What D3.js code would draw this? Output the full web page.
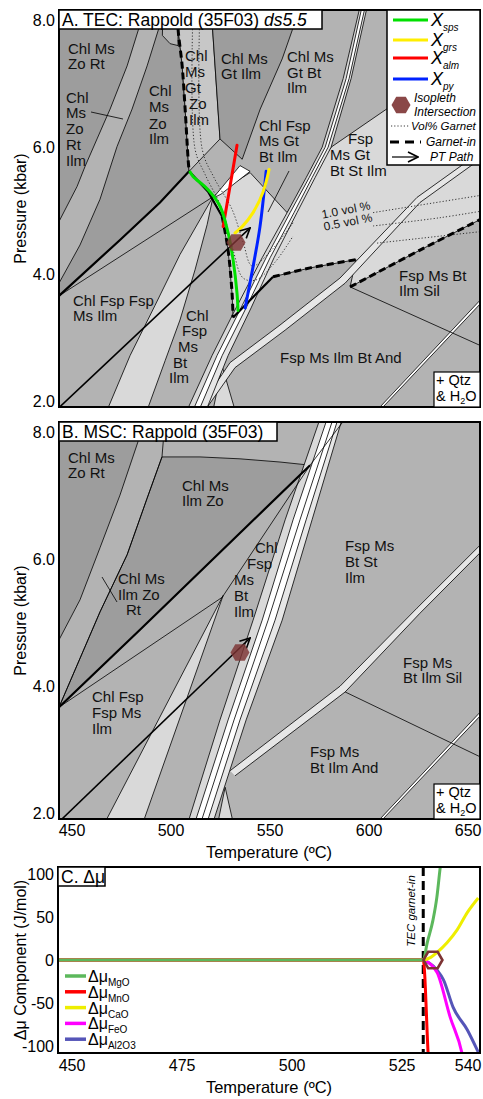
<!DOCTYPE html>
<html>
<head>
<meta charset="utf-8">
<script src="https://cdn.jsdelivr.net/npm/d3@7"></script>
<style>
  body { margin: 0; background: #fff; }
  svg { display: block; }
</style>
</head>
<body>
<div id="chart"></div>
<script>
// ─── Data (temperature °C, pressure kbar) ─────────────────────────────────────

const pTicks = [2, 4, 6, 8]
const tTicks = [450, 500, 550, 600, 650]
const dmuTicks = [-100, -50, 0, 50, 100]
const dmuTempTicks = [450, 475, 500, 525, 540]

// Panel A — TEC pseudosection fields
const aChlMsZoRt = [[443.4, 8.2], [484.8, 8.2], [483.8, 7.87], [477.8, 7.27], [469.2, 6.59], [462.6, 6.12], [456.6, 5.69], [452.5, 5.37], [443.4, 4.82]]
const aL2 = [[494.9, 8.2], [493.9, 7.87], [487.9, 7.27], [480.3, 6.59], [472.7, 6.0], [464.1, 5.17], [454, 4.45], [443.4, 3.85]]
const aGarnetUpper = [[503.5, 8.2], [503.5, 7.87], [505.6, 7.27], [507.1, 6.59], [508.6, 5.8], [509.1, 5.61]]
const aThick = [[509.1, 5.61], [494.4, 5.12], [474.2, 4.53], [443.4, 3.65]]
const aTopPatch = [[496, 8.2], [503.5, 8.2], [503.5, 7.59], [499.5, 7.62], [495.6, 7.75]]
const aChlMsGtIlm = [[520.2, 8.2], [565.1, 8.2], [561.6, 7.87], [556.1, 7.38], [545, 6.59], [535.9, 5.8], [524.7, 6.12]]
const aGarnetField = [[580.8, 5.99], [656, 7.6], [656, 4.85], [625.7, 4.37], [590.4, 3.79], [593.4, 4.22], [570.2, 4.09], [551.5, 3.95], [531.3, 3.31], [530.8, 3.69], [528.8, 4.37], [525.8, 4.9], [520.5, 5.2], [539.9, 5.59], [558.6, 4.96]]
const aSliver = [[521.2, 5.19], [534.8, 5.7], [539.9, 5.61], [525.2, 5.25]]
const aWedge = [[521.2, 5.21], [514.6, 4.85], [504.5, 4.3], [491.9, 3.5], [479.3, 2.71], [467.7, 1.85], [487.9, 1.85], [497, 2.63], [504.5, 3.27], [512.1, 4.06], [518.2, 4.77]]
const aBottomTri = [[525.8, 2.54], [532.3, 1.85], [521.2, 1.85]]
const aLineB = [[443.4, 3.65], [521.2, 5.21]]
const aLineSil = [[590.4, 3.79], [656, 2.87]]
const aGarnetSolid1 = [[509.1, 5.61], [518.7, 5.29], [525.8, 4.9]]
const aGarnetLow2 = [[525.8, 4.9], [528.8, 4.37], [530.8, 3.69], [531.3, 3.31]]
const aGarnetSolid2 = [[531.3, 3.31], [551.5, 3.95]]
const aGarnetLow4 = [[551.5, 3.95], [570.2, 4.09], [593.4, 4.22]]
const aGarnetLow5 = [[590.4, 3.79], [625.7, 4.37], [656, 4.85]]
const aBundle1 = [[508.1, 1.85], [520.7, 2.71], [532.8, 3.46], [546, 4.25], [558.6, 4.96], [568.2, 5.51], [576.3, 5.99], [586.9, 7.07], [595.4, 8.2]]
const aBundle2 = [[511.1, 1.85], [523.2, 2.71], [535.3, 3.46], [548, 4.25], [560.1, 4.96], [569.7, 5.51], [577.8, 5.99], [588.4, 7.07], [596.4, 8.2]]
const aBundle3 = [[514.1, 1.85], [525.8, 2.71], [537.9, 3.46], [550, 4.25], [562.1, 4.96], [571.2, 5.51], [579.3, 5.99], [589.9, 7.07], [598, 8.2]]
const aBundle4 = [[517.7, 1.85], [528.8, 2.71], [540.4, 3.46], [552, 4.25], [563.6, 4.96], [572.7, 5.51], [580.8, 5.99], [590.9, 7.07], [599, 8.2]]
const aS2a = [[656, 5.91], [624.2, 5.2], [585.3, 3.93], [555, 3.19], [529.8, 2.6], [514.6, 1.9]]
const aS2b = [[656, 5.8], [625.7, 5.12], [587.9, 3.85], [557.6, 3.11], [532.3, 2.52], [517.2, 1.85]]
const aDouble1 = [[604, 1.85], [656, 3.58]]
const aDouble2 = [[605.5, 1.85], [656, 3.52]]
// garnet modal contours (vol%)
const aVol05 = [[511.1, 8.2], [512.1, 5.96], [517.2, 5.56], [525.8, 5.01], [531.3, 4.37], [536.4, 3.93], [542.9, 3.9], [552.5, 4.18], [561.6, 4.59]]
const aVol05r = [[602, 4.75], [635.8, 4.88], [656, 4.98]]
const aVol10 = [[514.6, 8.2], [515.7, 5.96], [521.7, 5.51], [530.8, 5.01], [536.4, 4.49], [540.9, 4.12], [549, 4.31], [561.6, 4.8]]
const aVol10r = [[602, 4.96], [656, 5.23]]
const aVolLow = [[604, 4.48], [656, 4.66]]

// garnet isopleths (panel A)
const isoSps = [[509.6, 5.6], [511.1, 5.53], [518.7, 5.32], [524.7, 5.06], [528.8, 4.64], [531.3, 4.22], [533.3, 3.69], [533.8, 3.42]]
const isoGrs = [[549.5, 5.64], [546.5, 5.29], [541.4, 4.96], [535.9, 4.74], [532.3, 4.64]]
const isoAlm = [[533.3, 6.02], [526.3, 4.74]]
const isoPy = [[548, 5.61], [544.9, 4.74], [541.4, 4.11], [537.4, 3.46]]
const ptPathA = [[443.4, 1.89], [539.9, 4.72]]
const isoPointA = [532.8, 4.49]

// Panel B — MSC pseudosection fields
const bChlMsZoRt = [[443.4, 8.2], [485.4, 8.2], [483.3, 7.84], [474.2, 7.0], [464.1, 6.17], [454, 5.35], [443.4, 4.72]]
const bL2 = [[497, 8.2], [495.4, 7.6], [487.9, 6.95], [477.8, 6.06], [464.1, 5.16], [443.4, 3.66]]
const bArc = [[495.4, 7.6], [514.6, 7.6], [534.8, 7.57], [555, 7.52], [570.2, 7.47]]
const bThick = [[570.2, 7.47], [484.3, 4.88], [443.4, 3.66]]
const bThickUp = [[587.9, 8.2], [570.2, 7.47]]
const bThin = [[570.2, 7.47], [525.8, 5.39], [443.4, 3.66]]
const bWedge = [[526.3, 5.42], [466.7, 1.85], [485.9, 1.85]]
const bBottomTri = [[527.3, 2.4], [531.3, 1.85], [523.7, 1.85]]
const bBundle1 = [[508.6, 1.85], [524.7, 3.46], [541.4, 5.03], [557.6, 6.61], [575.2, 8.2]]
const bBundle2 = [[512.1, 1.85], [528.8, 3.46], [546, 5.03], [561.6, 6.61], [578.8, 8.2]]
const bBundle3 = [[515.1, 1.85], [531.8, 3.46], [549, 5.03], [565.1, 6.61], [581.8, 8.2]]
const bBundle4 = [[518.2, 1.85], [534.8, 3.46], [552.5, 5.03], [568.2, 6.61], [584.3, 8.2]]
const bBundle5 = [[521.2, 1.85], [537.9, 3.46], [556.1, 5.03], [571.2, 6.61], [586.4, 8.2]]
const bS2a = [[656, 6.21], [624.2, 5.22], [585.3, 3.99], [529.8, 2.66]]
const bS2b = [[656, 6.09], [625.7, 5.14], [587.9, 3.9], [532.3, 2.58]]
const bLineSil = [[587.9, 3.9], [656, 2.88]]
const bDouble1 = [[604, 1.85], [656, 3.58]]
const bDouble2 = [[605.5, 1.85], [656, 3.52]]
const ptPathB = [[444.9, 1.9], [539.9, 4.75]]
const isoPointB = [534.8, 4.52]

// Panel C — Δμ components (J/mol) vs temperature
const tecGarnetInT = 529.8
const dmuMgO = [[446.8, 0], [529.8, 0], [530.7, 20], [532, 46], [532.9, 73], [533.6, 105], [533.9, 118]]
const dmuMnO = [[446.8, 0], [529.8, 0], [530.9, -108], [531, -118]]
const dmuCaO = [[446.8, 0], [529.8, 0], [531.5, 3], [533, 9], [535.2, 20], [537.5, 35], [539.8, 55], [542.3, 72]]
const dmuFeO = [[446.8, 0], [529.8, 0], [531, -3], [533, -15], [535.9, -66], [538.6, -108], [539, -118]]
const dmuAl2O3 = [[446.8, 0], [529.8, 0], [531, -3], [533, -12], [534.4, -23], [536.6, -55], [539.8, -81], [542.3, -107]]
const dmuPoint = [532, 0]

// ─── Layout ───────────────────────────────────────────────────────────────────

const W = 483, H = 1099
const FONT = 'Arial, "Liberation Sans", sans-serif'
const DARK = '#9d9d9d', MID = '#b3b3b3', LMID = '#c7c7c7', LIGHT = '#d9d9d9', PALE = '#e6e6e6'
const HEX = '#7d3333'

const boxA = { left: 59, right: 480, top: 10, bottom: 407 }
const boxB = { left: 59, right: 480, top: 422, bottom: 819 }
const boxC = { left: 58, right: 480, top: 867, bottom: 1053 }

const x = d3.scaleLinear().domain([443.4, 656]).range([boxA.left, boxA.right])
const yA = d3.scaleLinear().domain([1.9, 8.15]).range([boxA.bottom, boxA.top])
const yB = d3.scaleLinear().domain([1.9, 8.15]).range([boxB.bottom, boxB.top])
const xC = d3.scaleLinear().domain([446.8, 542.7]).range([boxC.left, boxC.right])
const yC = d3.scaleLinear().domain([-108, 108]).range([boxC.bottom, boxC.top])

const svg = d3.select('#chart').append('svg')
  .attr('width', W).attr('height', H)
  .style('font-family', FONT)

const defs = svg.append('defs')
defs.append('marker')
  .attr('id', 'arrowhead')
  .attr('viewBox', '0 0 12 12')
  .attr('refX', 11).attr('refY', 6)
  .attr('markerWidth', 12).attr('markerHeight', 12)
  .attr('markerUnits', 'userSpaceOnUse')
  .attr('orient', 'auto')
  .append('path')
  .attr('d', 'M1,1 L11,6 L1,11')
  .attr('fill', 'none').attr('stroke', '#000').attr('stroke-width', 1.6)

const hexPath = r => 'M' + d3.range(6).map(i => {
  const a = i * Math.PI / 3
  return [r * Math.cos(a), r * Math.sin(a)]
}).join('L') + 'Z'

function clipFor(id, box) {
  defs.append('clipPath').attr('id', id)
    .append('rect')
    .attr('x', box.left).attr('y', box.top)
    .attr('width', box.right - box.left).attr('height', box.bottom - box.top)
  return `url(#${id})`
}

function fieldLabels(g, labels) {
  g.selectAll(null).data(labels).join('text')
    .attr('x', d => d.x).attr('y', d => d.y + 5.5)
    .attr('font-size', 15).attr('fill', '#111')
    .text(d => d.t)
}

// ─── Pseudosection panel ──────────────────────────────────────────────────────

function pseudosection(id, box, y, spec) {
  const g = svg.append('g')
  const body = g.append('g').attr('clip-path', clipFor('clip-' + id, box))
  const lin = d3.line().x(d => x(d[0])).y(d => y(d[1]))
  const smooth = d3.line().x(d => x(d[0])).y(d => y(d[1])).curve(d3.curveCatmullRom)

  body.append('rect')
    .attr('x', box.left).attr('y', box.top)
    .attr('width', box.right - box.left).attr('height', box.bottom - box.top)
    .attr('fill', MID)

  // assemblage fields
  body.selectAll(null).data(spec.fields).join('path')
    .attr('d', d => lin(d.pts) + 'Z')
    .attr('fill', d => d.fill)
    .attr('stroke', '#000').attr('stroke-width', 0.8)
    .attr('stroke-linejoin', 'round')

  // narrow fields drawn as strips between neighbouring boundaries
  spec.strips.forEach(s => {
    for (let i = 0; i < s.lines.length - 1; i++) {
      const poly = s.lines[i].concat(s.lines[i + 1].slice().reverse())
      body.append('path').attr('d', lin(poly) + 'Z').attr('fill', s.fills[i])
    }
    s.lines.forEach(l => body.append('path')
      .attr('d', lin(l)).attr('fill', 'none')
      .attr('stroke', '#000').attr('stroke-width', 0.8))
  })

  spec.thin.forEach(l => body.append('path')
    .attr('d', lin(l)).attr('fill', 'none')
    .attr('stroke', '#000').attr('stroke-width', 0.8))

  spec.thick.forEach(l => body.append('path')
    .attr('d', lin(l)).attr('fill', 'none')
    .attr('stroke', '#000').attr('stroke-width', 2.2))

  ;(spec.dotted || []).forEach(l => body.append('path')
    .attr('d', smooth(l)).attr('fill', 'none')
    .attr('stroke', '#222').attr('stroke-width', 0.9)
    .attr('stroke-dasharray', '1.2,2'))

  ;(spec.dashed || []).forEach(l => body.append('path')
    .attr('d', smooth(l)).attr('fill', 'none')
    .attr('stroke', '#000').attr('stroke-width', 3)
    .attr('stroke-dasharray', '7,4'))

  ;(spec.isopleths || []).forEach(s => body.append('path')
    .attr('d', smooth(s.pts)).attr('fill', 'none')
    .attr('stroke', s.color).attr('stroke-width', 3)
    .attr('stroke-linecap', 'round'))

  // PT path arrow
  body.append('path')
    .attr('d', lin(spec.ptPath))
    .attr('stroke', '#000').attr('stroke-width', 1.6)
    .attr('marker-end', 'url(#arrowhead)')

  // isopleth intersection
  body.append('path')
    .attr('d', hexPath(9.5))
    .attr('transform', `translate(${x(spec.isoPoint[0])},${y(spec.isoPoint[1])})`)
    .attr('fill', HEX).attr('fill-opacity', 0.82)

  fieldLabels(g, spec.labels)

  g.selectAll(null).data(spec.pointers).join('line')
    .attr('x1', d => d[0]).attr('y1', d => d[1])
    .attr('x2', d => d[2]).attr('y2', d => d[3])
    .attr('stroke', '#000').attr('stroke-width', 0.8)

  // frame
  g.append('rect')
    .attr('x', box.left).attr('y', box.top)
    .attr('width', box.right - box.left).attr('height', box.bottom - box.top)
    .attr('fill', 'none').attr('stroke', '#000').attr('stroke-width', 2)

  // pressure ticks
  g.selectAll(null).data(pTicks).join('text')
    .attr('x', 55).attr('y', d => y(d) + 6)
    .attr('text-anchor', 'end').attr('font-size', 16)
    .text(d => d.toFixed(1))

  g.append('text')
    .attr('transform', `translate(26,${(box.top + box.bottom) / 2}) rotate(-90)`)
    .attr('text-anchor', 'middle').attr('font-size', 16)
    .text('Pressure (kbar)')

  // title box
  const tb = g.append('g')
  tb.append('rect')
    .attr('x', box.left).attr('y', box.top)
    .attr('width', spec.titleW).attr('height', 19)
    .attr('fill', '#fff').attr('stroke', '#000').attr('stroke-width', 1.5)
  const tt = tb.append('text')
    .attr('x', box.left + 3).attr('y', box.top + 16)
    .attr('font-size', 17.5)
  tt.append('tspan').text(spec.title)
  if (spec.titleItalic) tt.append('tspan').attr('font-style', 'italic').text(spec.titleItalic)

  // + Qtz & H2O box
  const qb = g.append('g')
  qb.append('rect')
    .attr('x', 434).attr('y', box.bottom - 35)
    .attr('width', box.right - 434).attr('height', 35)
    .attr('fill', '#fff').attr('stroke', '#000').attr('stroke-width', 1.2)
  qb.append('text').attr('x', 436).attr('y', box.bottom - 22)
    .attr('font-size', 14.5).text('+ Qtz')
  const h2o = qb.append('text').attr('x', 436).attr('y', box.bottom - 6).attr('font-size', 14.5)
  h2o.append('tspan').text('& H')
  h2o.append('tspan').attr('font-size', 9).attr('dy', 3).text('2')
  h2o.append('tspan').attr('dy', -3).text('O')

  return g
}

// ─── Panel A ──────────────────────────────────────────────────────────────────

const aChlMsZoIlm = [...aL2, ...aThick.slice().reverse(), ...aGarnetUpper.slice().reverse()]
const aChlMsGtZoIlm = [...aGarnetUpper, [524.7, 6.12], [520.2, 8.2]]

const gA = pseudosection('a', boxA, yA, {
  fields: [
    { pts: aChlMsZoRt, fill: DARK },
    { pts: aChlMsZoIlm, fill: DARK },
    { pts: aTopPatch, fill: MID },
    { pts: aChlMsGtZoIlm, fill: LMID },
    { pts: aChlMsGtIlm, fill: DARK },
    { pts: aGarnetField, fill: LIGHT },
    { pts: aSliver, fill: '#fff' },
    { pts: aWedge, fill: LIGHT },
    { pts: aBottomTri, fill: LIGHT },
  ],
  strips: [
    { lines: [aS2a, aS2b], fills: [PALE] },
    { lines: [aBundle1, aBundle2, aBundle3, aBundle4], fills: [LIGHT, '#fff', PALE] },
    { lines: [aDouble1, aDouble2], fills: ['#fff'] },
  ],
  thin: [aLineB, aLineSil],
  thick: [aThick, aGarnetSolid1, aGarnetSolid2],
  dotted: [aVol10, aVol10r, aVol05, aVol05r, aVolLow],
  dashed: [aGarnetUpper, aGarnetLow2, aGarnetLow4, aGarnetLow5],
  isopleths: [
    { pts: isoAlm, color: '#ff0000' },
    { pts: isoPy, color: '#0022ff' },
    { pts: isoGrs, color: '#ffee00' },
    { pts: isoSps, color: '#00e000' },
  ],
  ptPath: ptPathA,
  isoPoint: isoPointA,
  title: 'A. TEC: Rappold (35F03) ',
  titleItalic: 'ds5.5',
  titleW: 263,
  labels: [
    { x: 68, y: 48, t: 'Chl Ms' }, { x: 68, y: 63, t: 'Zo Rt' },
    { x: 66, y: 97, t: 'Chl' }, { x: 66, y: 112, t: 'Ms' }, { x: 66, y: 128, t: 'Zo' }, { x: 66, y: 144, t: 'Rt' }, { x: 66, y: 160, t: 'Ilm' },
    { x: 149, y: 90, t: 'Chl' }, { x: 149, y: 106, t: 'Ms' }, { x: 149, y: 123, t: 'Zo' }, { x: 149, y: 138, t: 'Ilm' },
    { x: 185, y: 55, t: 'Chl' }, { x: 185, y: 71, t: 'Ms' }, { x: 185, y: 87, t: 'Gt' }, { x: 189, y: 103, t: 'Zo' }, { x: 189, y: 119, t: 'Ilm' },
    { x: 221, y: 58, t: 'Chl Ms' }, { x: 221, y: 73, t: 'Gt Ilm' },
    { x: 287, y: 56, t: 'Chl Ms' }, { x: 287, y: 72, t: 'Gt Bt' }, { x: 287, y: 87, t: 'Ilm' },
    { x: 259, y: 125, t: 'Chl Fsp' }, { x: 259, y: 140, t: 'Ms Gt' }, { x: 259, y: 156, t: 'Bt Ilm' },
    { x: 348, y: 138, t: 'Fsp' }, { x: 330, y: 154, t: 'Ms Gt' }, { x: 330, y: 170, t: 'Bt St Ilm' },
    { x: 399, y: 275, t: 'Fsp Ms Bt' }, { x: 399, y: 290, t: 'Ilm Sil' },
    { x: 280, y: 357, t: 'Fsp Ms Ilm Bt And' },
    { x: 73, y: 300, t: 'Chl Fsp Fsp' }, { x: 73, y: 315, t: 'Ms Ilm' },
    { x: 186, y: 315, t: 'Chl' }, { x: 182, y: 330, t: 'Fsp' }, { x: 178, y: 346, t: 'Ms' }, { x: 173, y: 362, t: 'Bt' }, { x: 169, y: 377, t: 'Ilm' },
  ],
  pointers: [[91, 112, 123, 119], [289, 171, 268, 212]],
})

// vol% labels
;[{ t: '1.0 vol %', cx: 346, cy: 210 }, { t: '0.5 vol %', cx: 348, cy: 222 }].forEach(d => {
  gA.append('text')
    .attr('transform', `translate(${d.cx},${d.cy}) rotate(-11)`)
    .attr('text-anchor', 'middle').attr('dy', 4)
    .attr('font-size', 12).attr('fill', '#111')
    .text(d.t)
})

// legend A
const legA = gA.append('g')
legA.append('rect')
  .attr('x', 387).attr('y', 10).attr('width', 93).attr('height', 155)
  .attr('fill', '#fff').attr('stroke', '#000').attr('stroke-width', 1.5)
const isoKeys = [
  { sub: 'sps', color: '#00e000', y: 20 },
  { sub: 'grs', color: '#ffee00', y: 40 },
  { sub: 'alm', color: '#ff0000', y: 58 },
  { sub: 'py', color: '#0022ff', y: 79 },
]
isoKeys.forEach(k => {
  legA.append('line')
    .attr('x1', 393).attr('x2', 428).attr('y1', k.y).attr('y2', k.y)
    .attr('stroke', k.color).attr('stroke-width', 3)
  const t = legA.append('text').attr('x', 431).attr('y', k.y + 6)
    .attr('font-style', 'italic').attr('font-size', 18)
  t.append('tspan').text('X')
  t.append('tspan').attr('font-size', 10).attr('dy', 5).text(k.sub)
})
legA.append('path')
  .attr('d', hexPath(9.5))
  .attr('transform', 'translate(401,105)')
  .attr('fill', HEX).attr('fill-opacity', 0.9)
legA.append('text').attr('x', 414).attr('y', 102).attr('font-style', 'italic').attr('font-size', 12).text('Isopleth')
legA.append('text').attr('x', 414).attr('y', 116).attr('font-style', 'italic').attr('font-size', 12).text('Intersection')
legA.append('line').attr('x1', 391).attr('x2', 409).attr('y1', 126).attr('y2', 126)
  .attr('stroke', '#222').attr('stroke-width', 0.9).attr('stroke-dasharray', '1.2,2')
legA.append('text').attr('x', 411).attr('y', 130).attr('font-style', 'italic').attr('font-size', 11.5).text('Vol% Garnet')
legA.append('line').attr('x1', 390).attr('x2', 421).attr('y1', 142).attr('y2', 142)
  .attr('stroke', '#000').attr('stroke-width', 3).attr('stroke-dasharray', '9,6')
legA.append('text').attr('x', 426).attr('y', 146).attr('font-style', 'italic').attr('font-size', 12).text('Garnet-in')
legA.append('line').attr('x1', 392).attr('x2', 418).attr('y1', 157).attr('y2', 157)
  .attr('stroke', '#000').attr('stroke-width', 1.2).attr('marker-end', 'url(#arrowhead)')
legA.append('text').attr('x', 430).attr('y', 161).attr('font-style', 'italic').attr('font-size', 12).text('PT Path')

// ─── Panel B ──────────────────────────────────────────────────────────────────

const bChlMsIlmZo = [...bArc, ...bThick.slice(1), ...bL2.slice(1).reverse()]

const gB = pseudosection('b', boxB, yB, {
  fields: [
    { pts: bChlMsZoRt, fill: DARK },
    { pts: bChlMsIlmZo, fill: DARK },
    { pts: bWedge, fill: LIGHT },
    { pts: bBottomTri, fill: LIGHT },
  ],
  strips: [
    { lines: [bS2a, bS2b], fills: [PALE] },
    { lines: [bBundle1, bBundle2, bBundle3, bBundle4, bBundle5], fills: [LIGHT, '#fff', '#fff', PALE] },
    { lines: [bDouble1, bDouble2], fills: ['#fff'] },
  ],
  thin: [bL2, bThin, bThickUp, bLineSil],
  thick: [bThick],
  ptPath: ptPathB,
  isoPoint: isoPointB,
  title: 'B. MSC: Rappold (35F03)',
  titleW: 218,
  labels: [
    { x: 68, y: 457, t: 'Chl Ms' }, { x: 68, y: 472, t: 'Zo Rt' },
    { x: 182, y: 485, t: 'Chl Ms' }, { x: 182, y: 500, t: 'Ilm Zo' },
    { x: 118, y: 578, t: 'Chl Ms' }, { x: 118, y: 594, t: 'Ilm Zo' }, { x: 126, y: 609, t: 'Rt' },
    { x: 255, y: 547, t: 'Chl' }, { x: 247, y: 563, t: 'Fsp' }, { x: 234, y: 579, t: 'Ms' }, { x: 234, y: 595, t: 'Bt' }, { x: 234, y: 611, t: 'Ilm' },
    { x: 345, y: 545, t: 'Fsp Ms' }, { x: 345, y: 561, t: 'Bt St' }, { x: 345, y: 577, t: 'Ilm' },
    { x: 403, y: 662, t: 'Fsp Ms' }, { x: 403, y: 677, t: 'Bt Ilm Sil' },
    { x: 310, y: 751, t: 'Fsp Ms' }, { x: 310, y: 767, t: 'Bt Ilm And' },
    { x: 92, y: 696, t: 'Chl Fsp' }, { x: 92, y: 712, t: 'Fsp Ms' }, { x: 92, y: 728, t: 'Ilm' },
  ],
  pointers: [[102, 577, 117, 602]],
})

gB.selectAll(null).data(tTicks).join('text')
  .attr('x', d => x(d)).attr('y', boxB.bottom + 17)
  .attr('text-anchor', 'middle').attr('font-size', 16)
  .text(d => d)
gB.append('text')
  .attr('x', 269).attr('y', boxB.bottom + 39)
  .attr('text-anchor', 'middle').attr('font-size', 16.5)
  .text('Temperature (ºC)')

// ─── Panel C ──────────────────────────────────────────────────────────────────

const gC = svg.append('g')
const bodyC = gC.append('g').attr('clip-path', clipFor('clip-c', boxC))
const lineC = d3.line().x(d => xC(d[0])).y(d => yC(d[1])).curve(d3.curveMonotoneX)

const dmuSeries = [
  { key: 'MgO', color: '#5cb85c', values: dmuMgO },
  { key: 'MnO', color: '#ff0000', values: dmuMnO },
  { key: 'CaO', color: '#eeee00', values: dmuCaO },
  { key: 'FeO', color: '#ff00ff', values: dmuFeO },
  { key: 'Al2O3', color: '#5555b8', values: dmuAl2O3 },
]

bodyC.append('line')
  .attr('x1', xC(tecGarnetInT)).attr('x2', xC(tecGarnetInT))
  .attr('y1', boxC.top).attr('y2', boxC.bottom)
  .attr('stroke', '#000').attr('stroke-width', 3).attr('stroke-dasharray', '9,5')

bodyC.selectAll(null).data(dmuSeries.slice().reverse()).join('path')
  .attr('d', d => lineC(d.values))
  .attr('fill', 'none')
  .attr('stroke', d => d.color).attr('stroke-width', 3)

bodyC.append('path')
  .attr('d', hexPath(9.5))
  .attr('transform', `translate(${xC(dmuPoint[0])},${yC(dmuPoint[1])})`)
  .attr('fill', 'none').attr('stroke', HEX).attr('stroke-width', 2.6)

gC.append('text')
  .attr('transform', `translate(${xC(tecGarnetInT) - 8},${boxC.top + 44}) rotate(-90)`)
  .attr('text-anchor', 'middle').attr('font-style', 'italic').attr('font-size', 11.5)
  .text('TEC garnet-in')

// legend C
dmuSeries.forEach((s, i) => {
  const yy = 976 + i * 15.8
  gC.append('line').attr('x1', 65).attr('x2', 86).attr('y1', yy).attr('y2', yy)
    .attr('stroke', s.color).attr('stroke-width', 3.5)
  const t = gC.append('text').attr('x', 88).attr('y', yy + 6).attr('font-size', 16)
  t.append('tspan').text('Δμ')
  t.append('tspan').attr('font-size', 10).attr('dy', 4).text(s.key)
})

gC.append('rect')
  .attr('x', boxC.left).attr('y', boxC.top)
  .attr('width', boxC.right - boxC.left).attr('height', boxC.bottom - boxC.top)
  .attr('fill', 'none').attr('stroke', '#000').attr('stroke-width', 2)

gC.append('rect')
  .attr('x', boxC.left).attr('y', boxC.top).attr('width', 47).attr('height', 19)
  .attr('fill', '#fff').attr('stroke', '#000').attr('stroke-width', 1.5)
gC.append('text').attr('x', boxC.left + 3).attr('y', boxC.top + 16)
  .attr('font-size', 17.5).text('C. Δμ')

gC.selectAll(null).data(dmuTicks).join('text')
  .attr('x', 54).attr('y', d => yC(d) + 6)
  .attr('text-anchor', 'end').attr('font-size', 16)
  .text(d => d)

gC.selectAll(null).data(dmuTempTicks).join('text')
  .attr('x', d => xC(d)).attr('y', boxC.bottom + 18)
  .attr('text-anchor', 'middle').attr('font-size', 16)
  .text(d => d)

gC.append('text')
  .attr('transform', `translate(26,${(boxC.top + boxC.bottom) / 2}) rotate(-90)`)
  .attr('text-anchor', 'middle').attr('font-size', 16)
  .text('Δμ Component (J/mol)')

gC.append('text')
  .attr('x', 269).attr('y', boxC.bottom + 40)
  .attr('text-anchor', 'middle').attr('font-size', 16.5)
  .text('Temperature (ºC)')
</script>
</body>
</html>
